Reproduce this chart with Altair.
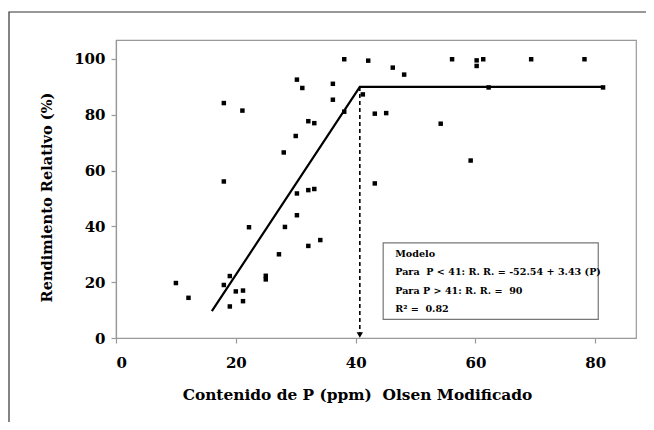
import altair as alt
import pandas as pd

# Scatter data: Olsen P (ppm) vs relative yield (%)
p_ppm = [10.0, 12.1, 18.0, 21.1, 18.0, 22.2, 19.0, 18.0, 20.0, 21.2, 21.2, 19.0,
         25.0, 25.0, 27.2, 28.2, 30.2, 32.1, 33.1, 34.1, 32.1, 30.2, 28.0, 30.0,
         32.1, 33.1, 30.2, 31.1, 36.2, 36.2, 38.1, 38.1, 41.2, 42.1, 43.2, 45.1,
         43.2, 46.2, 48.1, 54.2, 56.1, 59.2, 60.2, 60.2, 61.3, 62.2, 69.3, 78.2, 81.3]
rend_rel = [19.7, 14.4, 84.2, 81.5, 56.1, 39.7, 22.2, 19.0, 16.7, 17.0, 13.2, 11.3,
            21.0, 22.3, 30.0, 39.8, 44.0, 53.0, 53.4, 35.1, 33.0, 51.8, 66.5, 72.4,
            77.7, 77.0, 92.6, 89.6, 91.1, 85.4, 81.1, 99.9, 87.3, 99.4, 80.4, 80.6,
            55.4, 96.9, 94.4, 76.8, 99.9, 63.6, 99.5, 97.5, 99.9, 89.8, 99.9, 99.9, 89.8]

# Fitted linear-plateau model line
model_x = [16.0, 40.7, 81.3]
model_y = [9.6, 90.0, 90.0]

# Critical level marker
critical_x = [40.7]
critical_y_top = [90.0]
critical_y_bottom = [0.0]

NB = "\u00a0"
# Annotation box text
box_lines = ["Modelo",
             "Para" + NB + NB + "P < 41: R. R. = -52.54 + 3.43 (P)",
             "Para P > 41: R. R. =" + NB + NB + "90",
             "R² =" + NB + NB + "0.82"]
box_text_x = [46.6, 46.6, 46.6, 46.6]
box_text_y = [30.1, 23.6, 16.8, 10.3]
box_x = [44.6]
box_x2 = [80.5]
box_y = [34.1]
box_y2 = [6.7]

x_ticks = [0, 20, 40, 60, 80]
y_ticks = [0, 20, 40, 60, 80, 100]

FONT = "DejaVu Serif"

xs = alt.Scale(domain=[0, 86.8], nice=False)
ys = alt.Scale(domain=[0, 106.8], nice=False)

pts_df = pd.DataFrame({"p": p_ppm, "rr": rend_rel})
line_df = pd.DataFrame({"p": model_x, "rr": model_y})
crit_df = pd.DataFrame({"p": critical_x, "top": critical_y_top, "bot": critical_y_bottom})
box_df = pd.DataFrame({"x": box_x, "x2": box_x2, "y": box_y, "y2": box_y2})
txt_df = pd.DataFrame({"x": box_text_x, "y": box_text_y, "t": box_lines})

xaxis = alt.Axis(values=x_ticks, title="Contenido de P (ppm)" + NB + NB + "Olsen Modificado",
                 grid=False, labelPadding=12, titlePadding=17, titleFontSize=15.4,
                 titleX=241, titleAlign="center")
yaxis = alt.Axis(values=y_ticks, title="Rendimiento Relativo (%)",
                 grid=False, labelPadding=6, titlePadding=19, titleFontSize=14.6,
                 titleY=157, titleAlign="center")

points = alt.Chart(pts_df).mark_square(size=20, color="black", opacity=1).encode(
    x=alt.X("p:Q", scale=xs, axis=xaxis),
    y=alt.Y("rr:Q", scale=ys, axis=yaxis),
)

model = alt.Chart(line_df).mark_line(color="black", strokeWidth=2.2).encode(
    x=alt.X("p:Q", scale=xs), y=alt.Y("rr:Q", scale=ys)
)

crit = alt.Chart(crit_df).mark_rule(color="black", strokeWidth=1.6, strokeDash=[4, 3]).encode(
    x=alt.X("p:Q", scale=xs), y=alt.Y("top:Q", scale=ys), y2="bot:Q"
)

arrow = alt.Chart(crit_df).mark_point(shape="triangle-down", filled=True, color="black",
                                      size=40, opacity=1, yOffset=-3).encode(
    x=alt.X("p:Q", scale=xs), y=alt.Y("bot:Q", scale=ys)
)

box = alt.Chart(box_df).mark_rect(fill="white", stroke="#777777", strokeWidth=1.2).encode(
    x=alt.X("x:Q", scale=xs), x2="x2:Q", y=alt.Y("y:Q", scale=ys), y2="y2:Q"
)

txt = alt.Chart(txt_df).mark_text(align="left", baseline="middle", font=FONT,
                                  fontWeight="bold", fontSize=9.6, color="black").encode(
    x=alt.X("x:Q", scale=xs), y=alt.Y("y:Q", scale=ys), text="t:N"
)

frame = alt.Chart(box_df).mark_rect(fill=None, stroke="#333333", strokeWidth=1.2).encode(
    x=alt.value(-107), x2=alt.value(700), y=alt.value(-28), y2=alt.value(500)
)

chart = alt.layer(frame, points, model, crit, arrow, box, txt).properties(
    width=520, height=298,
    autosize=alt.AutoSizeParams(type="none"),
    padding={"left": 108, "top": 32, "right": 10, "bottom": 84},
).configure_view(
    stroke="#999999", strokeWidth=1.2
).configure_axis(
    labelFont=FONT, titleFont=FONT, labelFontSize=15,
    labelFontWeight="bold", titleFontWeight="bold", labelColor="black", titleColor="black",
    domainColor="#999999", tickColor="#999999", tickSize=5, domainWidth=1.2, tickWidth=1.2
)

chart.save("out.html", embed_options={"renderer": "svg", "actions": False})
